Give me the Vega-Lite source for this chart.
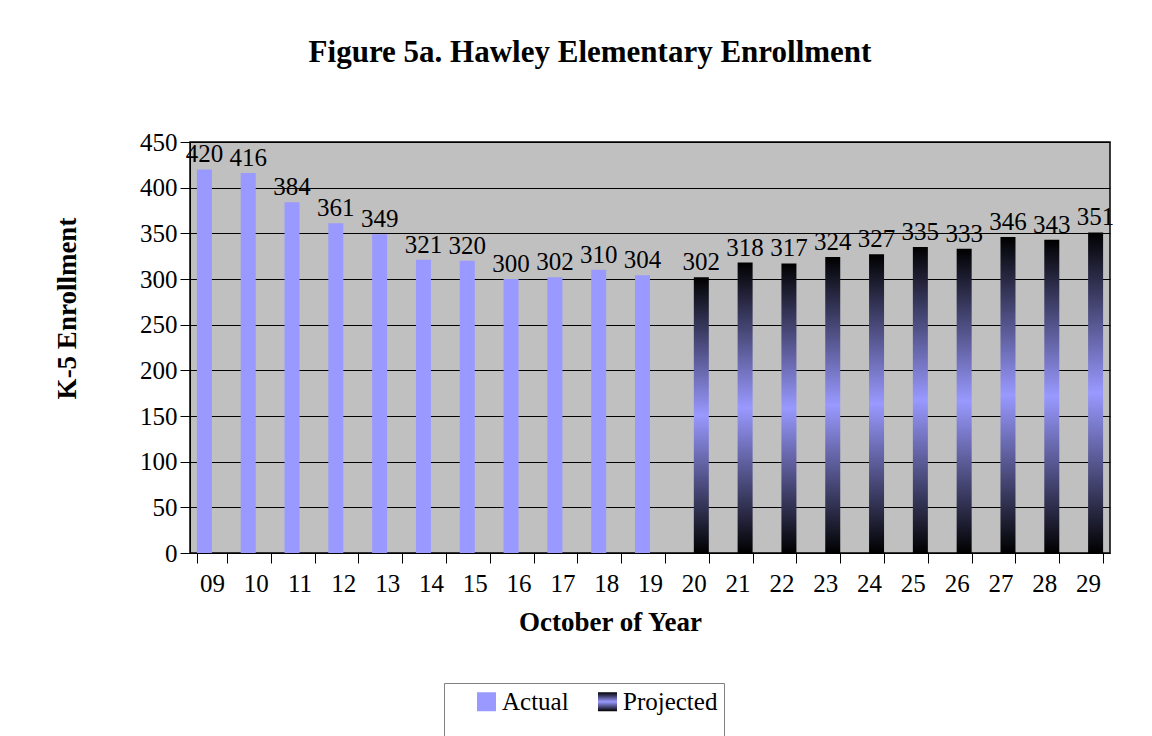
{
  "$schema": "https://vega.github.io/schema/vega-lite/v6.json",
  "autosize": "none",
  "width": 920,
  "height": 411,
  "padding": {"left": 190, "top": 142, "right": 42, "bottom": 183},
  "background": "white",
  "title": {
    "text": "Figure 5a. Hawley Elementary Enrollment",
    "font": "Liberation Serif",
    "fontSize": 31,
    "fontWeight": "bold",
    "color": "black",
    "anchor": "middle",
    "frame": "group",
    "baseline": "alphabetic",
    "offset": 37,
    "dx": -60
  },
  "data": {
    "values": [
      {"year": "09", "type": "Actual", "enrollment": 420},
      {"year": "10", "type": "Actual", "enrollment": 416},
      {"year": "11", "type": "Actual", "enrollment": 384},
      {"year": "12", "type": "Actual", "enrollment": 361},
      {"year": "13", "type": "Actual", "enrollment": 349},
      {"year": "14", "type": "Actual", "enrollment": 321},
      {"year": "15", "type": "Actual", "enrollment": 320},
      {"year": "16", "type": "Actual", "enrollment": 300},
      {"year": "17", "type": "Actual", "enrollment": 302},
      {"year": "18", "type": "Actual", "enrollment": 310},
      {"year": "19", "type": "Actual", "enrollment": 304},
      {"year": "20", "type": "Projected", "enrollment": 302},
      {"year": "21", "type": "Projected", "enrollment": 318},
      {"year": "22", "type": "Projected", "enrollment": 317},
      {"year": "23", "type": "Projected", "enrollment": 324},
      {"year": "24", "type": "Projected", "enrollment": 327},
      {"year": "25", "type": "Projected", "enrollment": 335},
      {"year": "26", "type": "Projected", "enrollment": 333},
      {"year": "27", "type": "Projected", "enrollment": 346},
      {"year": "28", "type": "Projected", "enrollment": 343},
      {"year": "29", "type": "Projected", "enrollment": 351}
    ]
  },
  "encoding": {
    "x": {
      "field": "year",
      "type": "nominal",
      "scale": {"paddingInner": 0.315, "paddingOuter": 0.1575},
      "axis": {
        "title": "October of Year",
        "labelAngle": 0,
        "tickBand": "extent",
        "tickSize": 10,
        "tickColor": "black",
        "domainColor": "black",
        "labelPadding": 8,
        "titleX": 420,
        "titleY": 69,
        "titleAlign": "center",
        "titleBaseline": "middle"
      }
    },
    "xOffset": {
      "field": "type",
      "type": "nominal",
      "scale": {"domain": ["Actual", "Projected"], "paddingInner": 0, "paddingOuter": 0}
    },
    "y": {
      "field": "enrollment",
      "type": "quantitative",
      "scale": {"domain": [0, 450], "nice": false},
      "axis": {
        "title": "K-5 Enrollment",
        "values": [0, 50, 100, 150, 200, 250, 300, 350, 400, 450],
        "tickSize": 10,
        "tickColor": "black",
        "domainColor": "black",
        "labelPadding": 3,
        "grid": true,
        "gridColor": "black",
        "gridOpacity": 1,
        "gridWidth": 1,
        "titleX": -123,
        "titleY": 166,
        "titleAngle": -90,
        "titleAlign": "center",
        "titleBaseline": "middle"
      }
    }
  },
  "layer": [
    {
      "mark": {"type": "bar"},
      "encoding": {
        "fill": {
          "condition": {
            "test": "datum.type === 'Projected'",
            "value": {
              "gradient": "linear",
              "x1": 0, "y1": 0, "x2": 0, "y2": 1,
              "stops": [
                {"offset": 0, "color": "#000000"},
                {"offset": 0.5, "color": "#9999FF"},
                {"offset": 1, "color": "#000000"}
              ]
            }
          },
          "value": "#9999FF"
        },
        "opacity": {
          "field": "type",
          "type": "ordinal",
          "scale": {"domain": ["Actual", "Projected"], "range": [1, 1]},
          "legend": {
            "title": "\u00a0",
            "titleOrient": "bottom",
            "titleFontSize": 30,
            "orient": "none",
            "legendX": 254,
            "legendY": 541,
            "direction": "horizontal",
            "strokeColor": "#808080",
            "padding": 6,
            "symbolType": "square",
            "symbolSize": 361,
            "symbolStrokeWidth": 0,
            "symbolOffset": 24,
            "columnPadding": 2,
            "labelFont": "Liberation Serif",
            "labelFontSize": 25,
            "labelColor": "black",
            "labelOffset": 3,
            "encoding": {
              "symbols": {
                "fill": {
                  "condition": {
                    "test": "datum.value === 'Projected'",
                    "value": {
                      "gradient": "linear",
                      "x1": 0, "y1": 0, "x2": 0, "y2": 1,
                      "stops": [
                        {"offset": 0, "color": "#000000"},
                        {"offset": 0.5, "color": "#9999FF"},
                        {"offset": 1, "color": "#000000"}
                      ]
                    }
                  },
                  "value": "#9999FF"
                }
              }
            }
          }
        }
      }
    },
    {
      "mark": {
        "type": "text",
        "align": "center",
        "baseline": "bottom",
        "dy": -2,
        "font": "Liberation Serif",
        "fontSize": 25,
        "color": "black"
      },
      "encoding": {
        "text": {"field": "enrollment", "type": "quantitative"}
      }
    }
  ],
  "config": {
    "view": {"fill": "#C0C0C0", "stroke": "#000000", "strokeWidth": 1.5},
    "axis": {
      "labelFont": "Liberation Serif",
      "labelFontSize": 25,
      "labelColor": "black",
      "titleFont": "Liberation Serif",
      "titleFontSize": 27,
      "titleFontWeight": "bold",
      "titleColor": "black"
    }
  }
}
